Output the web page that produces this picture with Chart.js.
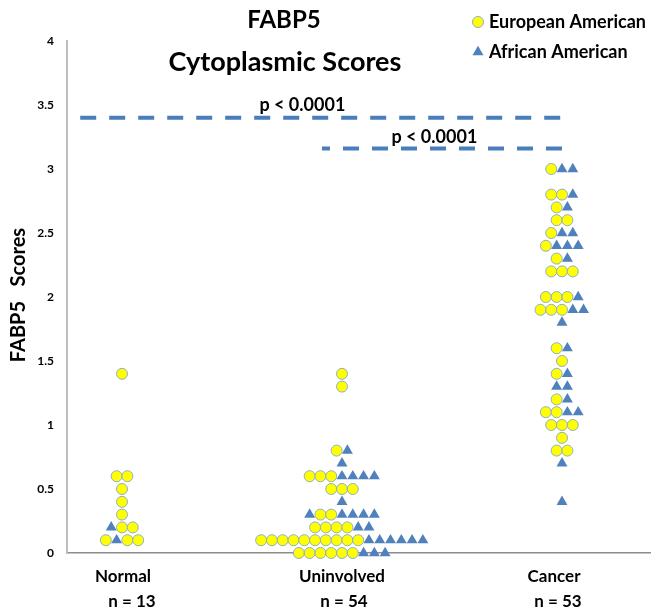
<!DOCTYPE html>
<html>
<head>
<meta charset="utf-8">
<script src="https://cdn.jsdelivr.net/npm/chart.js@4/dist/chart.umd.min.js"></script>
<style>
  body { margin: 0; background: #fff; }
  #wrap { width: 651px; height: 613px; }
</style>
</head>
<body>
<div id="wrap"><canvas id="chart" width="651" height="613"></canvas></div>
<script>
const groups = ['Normal', 'Uninvolved', 'Cancer'];
const groupN = ['n = 13', 'n = 54', 'n = 53'];
const races = ['European American', 'African American'];
const titleLines = ['FABP5', 'Cytoplasmic Scores'];
const yTitle = 'FABP5   Scores';

// [score, slot] - slot = sideways place in the swarm, in marker widths
const normalEA = [[1.4, 0], [0.6, -0.5], [0.6, 0.5], [0.5, 0], [0.4, 0], [0.3, 0],
  [0.2, 0], [0.2, 1], [0.1, -1.5], [0.1, 0.5], [0.1, 1.5]];
const normalAA = [[0.2, -1], [0.1, -0.5]];

const uninvEA = [[1.4, 0], [1.3, 0], [0.8, -0.5], [0.6, -3], [0.6, -2], [0.6, -1],
  [0.5, -1], [0.5, 0], [0.5, 1], [0.3, -2], [0.3, -1],
  [0.2, -2.5], [0.2, -1.5], [0.2, -0.5], [0.2, 0.5],
  [0.1, -7.5], [0.1, -6.5], [0.1, -5.5], [0.1, -4.5], [0.1, -3.5], [0.1, -2.5],
  [0.1, -1.5], [0.1, -0.5], [0.1, 0.5], [0.1, 1.5],
  [0, -4], [0, -3], [0, -2], [0, -1], [0, 0], [0, 1]];
const uninvAA = [[0.8, 0.5], [0.7, 0], [0.6, 0], [0.6, 1], [0.6, 2], [0.6, 3], [0.4, 0],
  [0.3, -3], [0.3, 0], [0.3, 1], [0.3, 2], [0.3, 3], [0.2, 1.5], [0.2, 2.5],
  [0.1, 2.5], [0.1, 3.5], [0.1, 4.5], [0.1, 5.5], [0.1, 6.5], [0.1, 7.5],
  [0, 2], [0, 3], [0, 4]];

const cancerEA = [[3.0, -1], [2.8, -1], [2.8, 0], [2.7, -0.5], [2.6, -0.5], [2.6, 0.5],
  [2.5, -1], [2.4, -1.5], [2.3, -0.5], [2.2, -1], [2.2, 0], [2.2, 1],
  [2.0, -1.5], [2.0, -0.5], [2.0, 0.5], [1.9, -2], [1.9, -1], [1.9, 0],
  [1.6, -0.5], [1.5, 0], [1.4, -0.5], [1.2, -0.5], [1.1, -1.5], [1.1, -0.5],
  [1.0, -1], [1.0, 0], [1.0, 1], [0.9, 0], [0.8, -0.5], [0.8, 0.5]];
const cancerAA = [[3.0, 0], [3.0, 1], [2.8, 1], [2.7, 0.5], [2.5, 0], [2.5, 1],
  [2.4, -0.5], [2.4, 0.5], [2.4, 1.5], [2.3, 0.5], [2.0, 1.5], [1.9, 1], [1.9, 2],
  [1.8, 0], [1.6, 0.5], [1.4, 0.5], [1.3, -0.5], [1.3, 0.5], [1.2, 0.5],
  [1.1, 0.5], [1.1, 1.5], [0.7, 0], [0.4, 0]];

// significance bars: y level, start x, end x (in category units)
const pLevels = [3.4, 3.16];
const pStarts = [0.81, 1.909];
const pEnds = [3.0, 3.0];
const pTexts = ['p < 0.0001', 'p < 0.0001'];
const pTextX = [1.82, 2.42];
const pTextY = [3.5, 3.25];

const SLOT = 0.049;
const FONT = 'Lato, "Open Sans", sans-serif';
const YELLOW = '#ffff00';
const RING = '#8eaec8';
const BLUE = '#4f81bd';
const dashOffsets = [0, 8];

function swarm(lists) {
  const pts = [];
  lists.forEach((list, g) => {
    list.forEach(([score, slot]) => pts.push({ x: g + 1 + slot * SLOT, y: score }));
  });
  return pts;
}

const datasets = [];
pLevels.forEach((lvl, i) => {
  datasets.push({
    type: 'line',
    data: [{ x: pStarts[i], y: lvl }, { x: pEnds[i], y: lvl }],
    borderColor: '#4a7ebb',
    borderWidth: 4,
    borderDash: [16, 13],
    borderDashOffset: dashOffsets[i],
    pointRadius: 0,
    clip: false
  });
});
datasets.push({
  label: races[1],
  data: swarm([normalAA, uninvAA, cancerAA]),
  pointStyle: 'triangle',
  pointRadius: 6.3,
  backgroundColor: BLUE,
  borderColor: BLUE,
  borderWidth: 0,
  clip: false
});
datasets.push({
  label: races[0],
  data: swarm([normalEA, uninvEA, cancerEA]),
  pointStyle: 'circle',
  pointRadius: 5.5,
  backgroundColor: YELLOW,
  borderColor: RING,
  borderWidth: 1,
  clip: false
});

const labelNudge = [1, 0, -8];
const nNudge = [10, 2, -4];

const overlay = {
  id: 'overlay',
  afterDraw(chart) {
    const { ctx, scales: { x, y } } = chart;
    ctx.save();
    ctx.fillStyle = '#000';
    ctx.textAlign = 'center';
    ctx.textBaseline = 'middle';

    ctx.font = 'bold 24px ' + FONT;
    ctx.fillText(titleLines[0], 284, 20);
    ctx.font = 'bold 27px ' + FONT;
    ctx.fillText(titleLines[1], 285, 62);

    ctx.font = 'bold 18px ' + FONT;
    pTexts.forEach((t, i) => {
      ctx.fillText(t, x.getPixelForValue(pTextX[i]), y.getPixelForValue(pTextY[i]));
    });

    ctx.font = 'bold 17px ' + FONT;
    groups.forEach((g, i) => {
      const px = x.getPixelForValue(i + 1);
      ctx.fillText(g, px + labelNudge[i], 577);
      ctx.fillText(groupN[i], px + nNudge[i], 602);
    });

    // legend
    ctx.font = 'bold 18px ' + FONT;
    ctx.textAlign = 'left';
    ctx.fillText(races[0], 489, 22);
    ctx.fillText(races[1], 489, 52);
    ctx.beginPath();
    ctx.arc(478, 22, 5.5, 0, Math.PI * 2);
    ctx.fillStyle = YELLOW;
    ctx.fill();
    ctx.strokeStyle = RING;
    ctx.lineWidth = 1;
    ctx.stroke();
    ctx.beginPath();
    ctx.moveTo(478, 45.7);
    ctx.lineTo(483.5, 55.2);
    ctx.lineTo(472.5, 55.2);
    ctx.closePath();
    ctx.fillStyle = BLUE;
    ctx.fill();

    // y title
    ctx.translate(19, 295);
    ctx.rotate(-Math.PI / 2);
    ctx.textAlign = 'center';
    ctx.fillStyle = '#000';
    ctx.font = 'bold 20px ' + FONT;
    ctx.fillText(yTitle, 0, 0);
    ctx.restore();
  }
};

new Chart(document.getElementById('chart'), {
  type: 'scatter',
  data: { datasets },
  options: {
    responsive: false,
    animation: false,
    layout: { autoPadding: false, padding: { top: 41, right: 0, left: 0, bottom: 0 } },
    plugins: {
      legend: { display: false },
      tooltip: { enabled: false },
      title: { display: false }
    },
    scales: {
      x: {
        type: 'linear',
        min: 0.75,
        max: 3.4045,
        grid: { display: false, drawTicks: false },
        border: { display: true, color: '#8c8c8c', width: 1.5 },
        ticks: { display: false },
        afterFit(scale) { scale.height = 60; }
      },
      y: {
        min: 0,
        max: 4,
        grid: { display: false, drawTicks: false },
        border: { display: true, color: '#bdbdbd', width: 2 },
        ticks: {
          stepSize: 0.5,
          padding: 13,
          color: '#000',
          font: { family: FONT, size: 12, weight: 'bold' },
          callback: v => String(+v.toFixed(1))
        },
        afterFit(scale) { scale.width = 67; }
      }
    }
  },
  plugins: [overlay]
});
</script>
</body>
</html>
